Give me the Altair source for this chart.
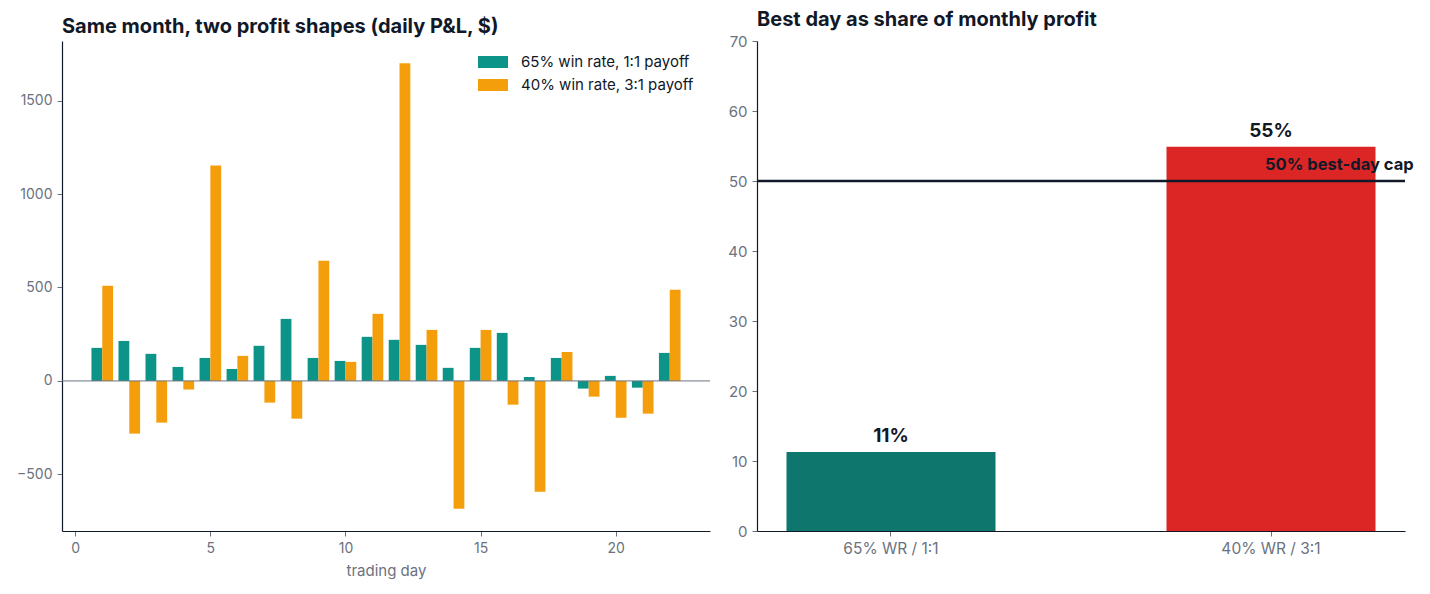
import altair as alt
import pandas as pd

# ---- data ----
days = list(range(1, 23))
series_names = ["65% win rate, 1:1 payoff", "40% win rate, 3:1 payoff"]
pnl_a = [177, 214, 145, 75, 123, 64, 188, 332, 123, 107, 236, 220, 193, 70, 177, 257, 21, 123, -41, 27, -36, 150]
pnl_b = [509, -282, -223, -46, 1153, 134, -116, -202, 643, 102, 359, 1700, 273, -684, 273, -127, -593, 155, -84, -197, -175, 488]

share_cats = ["65% WR / 1:1", "40% WR / 3:1"]
share_vals = [11.3, 54.9]
share_labels = ["11%", "55%"]
cap_value = 50
cap_label = "50% best-day cap"

FONT = "Inter"
DARK = "#111827"
GRAY = "#6b7280"

rows = []
for d, a, b in zip(days, pnl_a, pnl_b):
    rows.append({"day": d, "series": series_names[0], "pnl": a})
    rows.append({"day": d, "series": series_names[1], "pnl": b})
df_pnl = pd.DataFrame(rows)

df_share = pd.DataFrame({"cat": share_cats, "share": share_vals, "label": share_labels})
df_cap = pd.DataFrame({"cat": [share_cats[1]], "val": [cap_value], "label": [cap_label]})

# ---- left chart ----
xscale = alt.Scale(domain=[-0.49, 23.49], nice=False, zero=False)
yscale = alt.Scale(domain=[-803, 1819], nice=False, zero=False)

bars = alt.Chart(df_pnl).transform_calculate(
    x0=f"datum.day + (datum.series == '{series_names[0]}' ? -0.4 : 0)",
    x1=f"datum.day + (datum.series == '{series_names[0]}' ? 0 : 0.4)",
).mark_bar().encode(
    x=alt.X("x0:Q", scale=xscale, title="trading day",
            axis=alt.Axis(values=[0, 5, 10, 15, 20], format="d", titlePadding=8)),
    x2="x1:Q",
    y=alt.Y("pnl:Q", scale=yscale, title=None,
            axis=alt.Axis(values=[-500, 0, 500, 1000, 1500], format="d")),
    y2=alt.datum(0),
    color=alt.Color("series:N",
                    scale=alt.Scale(domain=series_names, range=["#0d9488", "#f59e0b"]),
                    legend=alt.Legend(title=None, orient="none", legendX=416, legendY=6,
                                      symbolType="M-1,-0.4H1V0.4H-1Z", symbolSize=900,
                                      symbolStrokeWidth=0, labelOffset=13, labelLimit=400,
                                      labelFontSize=15, labelColor=DARK, labelFont=FONT,
                                      rowPadding=-8)),
)

zero = alt.Chart(pd.DataFrame({"z": [0]})).mark_rule(color=GRAY, strokeWidth=1).encode(
    y=alt.Y("z:Q", scale=yscale)
)

left = alt.layer(bars, zero).properties(
    width=648, height=490,
    title=alt.TitleParams("Same month, two profit shapes (daily P&L, $)", anchor="start", frame="group"),
)

# ---- right chart ----
xcat = alt.X("cat:N", sort=share_cats, title=None,
             scale=alt.Scale(paddingInner=0.45, paddingOuter=0.0776),
             axis=alt.Axis(labelAngle=0, labelFontSize=15.5))
yshare = alt.Scale(domain=[0, 70], nice=False)

rbars = alt.Chart(df_share).mark_bar().encode(
    x=xcat,
    y=alt.Y("share:Q", scale=yshare, title=None,
            axis=alt.Axis(values=list(range(0, 71, 10)), labelFontSize=15)),
    color=alt.Color("cat:N", scale=alt.Scale(domain=share_cats, range=["#0f766e", "#dc2626"]), legend=None),
)
rtext = alt.Chart(df_share).mark_text(
    font=FONT, fontSize=19, fontWeight="bold", color=DARK, baseline="alphabetic", dy=-10
).encode(x=xcat, y=alt.Y("share:Q", scale=yshare), text="label:N")

rule = alt.Chart(df_cap).mark_rule(color=DARK, strokeWidth=2.5).encode(
    y=alt.Y("val:Q", scale=yshare)
)
captext = alt.Chart(df_cap).mark_text(
    font=FONT, fontSize=16.5, fontWeight="bold", color=DARK, align="left",
    baseline="alphabetic", dx=-6, dy=-11
).encode(x=xcat, y=alt.Y("val:Q", scale=yshare), text="label:N")

right = alt.layer(rbars, rule, rtext, captext).properties(
    width=648, height=490,
    title=alt.TitleParams("Best day as share of monthly profit", anchor="start", frame="group"),
)

chart = alt.hconcat(left, right, spacing=16).resolve_scale(color="independent").properties(
    background="white",
    padding={"left": 8, "top": 2, "right": 5, "bottom": 5},
).configure_view(
    stroke=None
).configure_axis(
    grid=False, domainColor=DARK, domainWidth=1.2, tickColor=GRAY, tickSize=5,
    labelColor=GRAY, labelFont=FONT, labelFontSize=14, labelPadding=5,
    titleColor=GRAY, titleFont=FONT, titleFontSize=15, titleFontWeight="normal",
).configure_title(
    font=FONT, fontSize=20, fontWeight="bold", color=DARK, offset=0
)

chart.save("out.html", embed_options={"renderer": "svg", "actions": False})
